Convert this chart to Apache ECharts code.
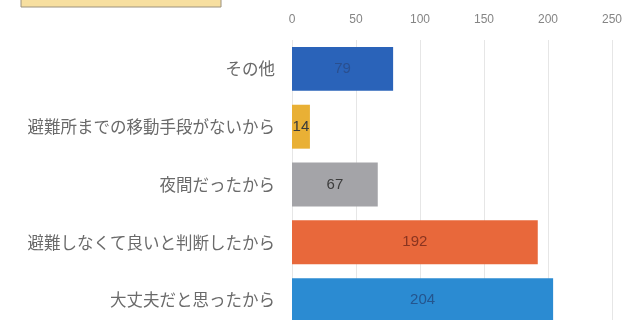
<!DOCTYPE html>
<html>
<head>
<meta charset="utf-8">
<script src="https://cdn.jsdelivr.net/npm/echarts@6/dist/echarts.min.js"></script>
<style>
  html, body { margin: 0; padding: 0; background: #fff; }
  #chart { width: 632px; height: 320px; }
</style>
</head>
<body>
<div id="chart"></div>
<script>
const categories = ['その他', '避難所までの移動手段がないから', '夜間だったから', '避難しなくて良いと判断したから', '大丈夫だと思ったから']
const values = [79, 14, 67, 192, 204]
const barColors = ['#2a63b9', '#e9b035', '#a4a4a8', '#e8683b', '#2b8bd2']
const labelColors = ['#2a4f8f', '#3a3a3a', '#3d3d3d', '#8a3420', '#24558e']
const tickLabels = ['0', '50', '100', '150', '200', '250']

const chart = echarts.init(document.getElementById('chart'))

let barData = values.map((v, i) => {
  return {
    value: v,
    itemStyle: { color: barColors[i] },
    label: { color: labelColors[i] }
  }
})

let option = {
  animation: false,
  graphic: [
    {
      // cut off title box at the top left
      type: 'rect',
      shape: { x: 21, y: -10, width: 200, height: 17 },
      style: { fill: '#f7dfa0', stroke: '#9c927e', lineWidth: 1 }
    }
  ],
  grid: {
    left: 292,
    right: 20,
    top: 40,
    height: 289,
    outerBoundsMode: 'none'
  },
  xAxis: {
    type: 'value',
    position: 'top',
    min: 0,
    max: 250,
    interval: 50,
    axisLine: { show: false },
    axisTick: { show: false },
    axisLabel: {
      fontSize: 12,
      color: '#858585',
      margin: 14,
      fontFamily: 'Liberation Sans',
      formatter: v => tickLabels[v / 50]
    },
    splitLine: { lineStyle: { color: '#e6e6e6' } }
  },
  yAxis: {
    type: 'category',
    inverse: true,
    data: categories,
    axisLine: { show: false },
    axisTick: { show: false },
    axisLabel: {
      fontSize: 16.5,
      color: '#6a6a6a',
      margin: 17,
      fontFamily: 'Noto Sans CJK JP'
    }
  },
  series: [
    {
      type: 'bar',
      data: barData,
      barCategoryGap: '24%',
      label: {
        show: true,
        position: 'inside',
        fontSize: 15,
        fontFamily: 'Liberation Sans'
      }
    }
  ]
}
option && chart.setOption(option)
</script>
</body>
</html>
